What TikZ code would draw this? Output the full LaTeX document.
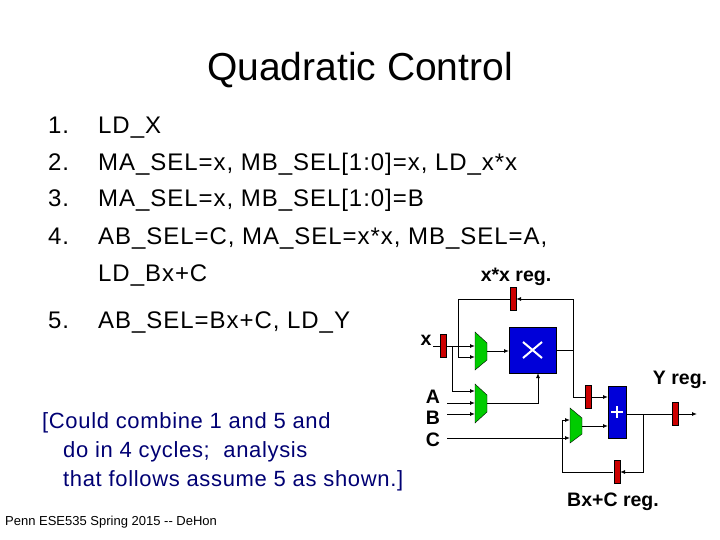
\documentclass[tikz,border=0pt]{standalone}
\usepackage{fontspec}
\setmainfont{Liberation Sans}
\usetikzlibrary{arrows.meta}
\begin{document}
\begin{tikzpicture}[x=1pt,y=-1pt,
 txt/.style={anchor=base west,inner sep=0pt,font=\fontsize{24}{24}\selectfont\addfontfeature{LetterSpace=4}},
 bt/.style={anchor=base west,inner sep=0pt,font=\fontsize{22}{22}\selectfont\addfontfeature{LetterSpace=3},text=blue!45!black},
 lb/.style={inner sep=0pt,font=\bfseries\fontsize{19.5}{19.5}\selectfont},
 reg/.style={fill=red!80!black,draw=black,line width=0.4pt,minimum width=6pt,minimum height=23pt,inner sep=0pt},
 w/.style={line width=0.9pt},
 a/.style={w,-{Latex[length=5pt,width=4pt]}}]
\useasboundingbox (0,0) rectangle (720,540);
\node[inner sep=0pt,font=\fontsize{39}{39}\selectfont] (title) at (360,70) {Quadratic Control};
\foreach \n/\y in {1/134,2/171,3/207,4/244,5/328}{\node[txt] (n\n) at (48,\y) {\n.};}
\node[txt] (t1) at (98,134) {LD\_X};
\node[txt] (t2) at (98,171) {MA\_SEL=x, MB\_SEL[1:0]=x, LD\_x*x};
\node[txt] (t3) at (98,207) {MA\_SEL=x, MB\_SEL[1:0]=B};
\node[txt] (t4) at (98,244) {AB\_SEL=C, MA\_SEL=x*x, MB\_SEL=A,};
\node[txt] (t4b) at (98,281) {LD\_Bx+C};
\node[txt] (t5) at (98,328) {AB\_SEL=Bx+C, LD\_Y};
\node[bt] (b1) at (42,428) {[Could combine 1 and 5 and};
\node[bt] (b2) at (63,457) {do in 4 cycles;\ \ analysis};
\node[bt] (b3) at (63,486) {that follows assume 5 as shown.]};
\node[anchor=west,inner sep=0pt,font=\fontsize{13}{13}\selectfont] (foot) at (5,522) {Penn ESE535 Spring 2015 -{}- DeHon};
% labels
\node[lb] (lx) at (426,340) {x};
\node[lb] (lA) at (433,397) {A};
\node[lb] (lB) at (433,418) {B};
\node[lb] (lC) at (433,440) {C};
\node[lb] (lxx) at (516,277) {x*x reg.};
\node[lb] (lY) at (680,380) {Y reg.};
\node[lb] (lbc) at (613,502) {Bx+C reg.};
% blocks
\draw[fill=green!80!black] (475,332) -- (487,343) -- (487,360) -- (475,370) -- cycle;
\draw[fill=green!80!black] (475,384) -- (487,395) -- (487,412) -- (475,423) -- cycle;
\draw[fill=green!80!black] (570,408) -- (582,418) -- (582,434) -- (570,443) -- cycle;
\node[draw,fill=blue!85!black,minimum width=47pt,minimum height=46pt,inner sep=0pt] (mul) at (532.5,350) {};
\draw[white,line width=2pt] (523,342)--(542,358) (523,358)--(542,342);
\node[draw,fill=blue!85!black,minimum width=18pt,minimum height=52pt,inner sep=0pt] (add) at (617,412) {};
\draw[white,line width=1.5pt] (617,406)--(617,418) (611,412)--(623,412);
% wires
\draw[w] (433,346) -- (446,346);
\draw[a] (446,346) -- (475,346);
\draw[a] (452,346) -- (452,391) -- (475,391);
\draw[a] (447,403) -- (475,403);
\draw[a] (447,414) -- (475,414);
\draw[a] (447,438) -- (570,438);
\draw[a] (487,351) -- (509,351);
\draw[a] (487,403) -- (538,403) -- (538,373);
\draw[w] (556,350) -- (573,350);
\draw[a] (573,350) -- (573,299) -- (516,299);
\draw[a] (510,299) -- (458,299) -- (458,357) -- (475,357);
\draw[w] (573,350) -- (573,397) -- (585,397);
\draw[a] (591,397) -- (608,397);
\draw[a] (582,426) -- (608,426);
\draw[a] (626,414) -- (697,414);
\draw[a] (643,414) -- (643,472) -- (620,472);
\draw[a] (613,472) -- (562,472) -- (562,420) -- (570,420);
\node[reg] (rx) at (443,346) {};
\node[reg] (rxx) at (513,299) {};
\node[reg] (rm) at (588,397) {};
\node[reg] (ry) at (675,414) {};
\node[reg] (rb) at (617,472) {};
\end{tikzpicture}
\end{document}
